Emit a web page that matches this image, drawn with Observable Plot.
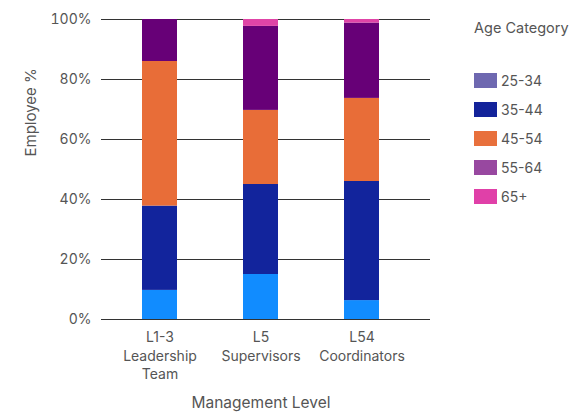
<!DOCTYPE html>
<html>
<head>
<meta charset="utf-8">
<script src="https://cdn.jsdelivr.net/npm/d3@7"></script>
<script src="https://cdn.jsdelivr.net/npm/@observablehq/plot@0.6"></script>
<style>
  html, body { margin: 0; padding: 0; background: #fff; }
  #wrap { position: relative; width: 580px; height: 418px; font-family: Inter, "Open Sans", sans-serif; }
  #legend { position: absolute; left: 474px; top: 17px; color: #555; font-size: 14px; }
  #legend .title { height: 22px; line-height: 22px; margin-bottom: 27px; font-size: 14.5px; }
  #legend .row { display: flex; align-items: center; height: 29px; }
  #legend .sw { width: 23px; height: 15px; margin-right: 4px; }
</style>
</head>
<body>
<div id="wrap"><div id="legend"></div></div>
<script>
const levels = ["L1-3", "L5", "L54"];
const levelLabels = ["L1-3\nLeadership\nTeam", "L5\nSupervisors", "L54\nCoordinators"];
const ages = ["25-34", "35-44", "45-54", "55-64", "65+"];
const age25_34 = [9.7, 15.0, 6.3];
const age35_44 = [28.1, 30.0, 39.7];
const age45_54 = [48.2, 24.7, 27.7];
const age55_64 = [14.0, 28.0, 25.1];
const age65plus = [0.0, 2.3, 1.2];
const yTicks = [0, 20, 40, 60, 80, 100];
const barColors = ["#118cff", "#12249c", "#e86d38", "#670077", "#e044a7"];
const legendColors = ["#6e68b0", "#13239a", "#e8703c", "#9848a0", "#e040a8"];

const series = [age25_34, age35_44, age45_54, age55_64, age65plus];
const data = [];
ages.forEach((a, i) => levels.forEach((l, j) => data.push({level: l, age: a, value: series[i][j]})));

const chart = Plot.plot({
  width: 580,
  height: 418,
  marginLeft: 101,
  marginRight: 150,
  marginTop: 19,
  marginBottom: 99,
  style: {fontFamily: "Inter, 'Open Sans', sans-serif", fontSize: "14px", color: "#555", background: "white"},
  x: {domain: levels, paddingInner: 0.655, paddingOuter: 0.448, align: 0.443},
  y: {domain: [0, 100]},
  color: {domain: ages, range: barColors},
  marks: [
    Plot.ruleY(yTicks, {stroke: "#333", strokeWidth: 1}),
    Plot.barY(data, {x: "level", y: "value", fill: "age", z: "age"}),
    Plot.axisY(yTicks, {tickSize: 0, tickPadding: 10, tickFormat: d => d + "%", label: null, fill: "#555"}),
    Plot.axisX({tickSize: 0, tickPadding: 10, tickFormat: (d, i) => levelLabels[levels.indexOf(d)], lineHeight: 1.3, label: null, fill: "#555"}),
    Plot.text(["Management Level"], {frameAnchor: "bottom", text: d => d, dx: -5, dy: 88, fill: "#555", fontSize: 15.5}),
    Plot.text(["Employee %"], {frameAnchor: "left", text: d => d, rotate: -90, dx: -70, dy: -13, fill: "#555", fontSize: 15})
  ]
});
const wrap = document.getElementById("wrap");
wrap.insertBefore(chart, wrap.firstChild);

const legend = document.getElementById("legend");
const t = document.createElement("div");
t.className = "title";
t.textContent = "Age Category";
legend.appendChild(t);
ages.forEach((a, i) => {
  const r = document.createElement("div");
  r.className = "row";
  const s = document.createElement("div");
  s.className = "sw";
  s.style.background = legendColors[i];
  const l = document.createElement("span");
  l.textContent = a;
  r.appendChild(s); r.appendChild(l);
  legend.appendChild(r);
});
</script>
</body>
</html>
